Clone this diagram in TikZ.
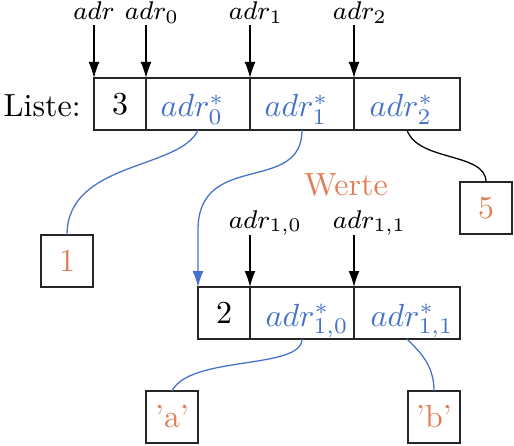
\documentclass[tikz,border=0pt]{standalone}
\usepackage{mathtools}
\usetikzlibrary{arrows.meta}
\definecolor{myblue}{RGB}{70,114,200}
\definecolor{myorange}{RGB}{224,128,88}
\tikzset{
  cell/.style={draw=black!85, minimum height=16.25pt, inner sep=0pt, outer sep=0pt, anchor=north west},
  w1/.style={minimum width=16.25pt},
  w2/.style={minimum width=32.5pt},
  w3/.style={minimum width=33.125pt},
  valbox/.style={cell, w1, text=myorange},
  ptr/.style={anchor=base west, inner sep=0pt, text=myblue},
  lab/.style={anchor=base, inner sep=0pt, font=\footnotesize},
  arr/.style={-{Latex[length=5pt,width=3.4pt]}},
  bluelink/.style={myblue},
}
\begin{document}
\begin{tikzpicture}[x=0.3125pt,y=-0.3125pt]
\useasboundingbox (0,0) rectangle (514,445);
% first list
\node[cell,w1] (c0) at (94,78) {3};
\node[cell,w2] (c1) at (146,78) {};
\node[cell,w2] (c2) at (250,78) {};
\node[cell,w3] (c3) at (354,78) {};
\node[ptr] (p0) at (160,117) {$adr^*_0$};
\node[ptr] (p1) at (264,117) {$adr^*_1$};
\node[ptr] (p2) at (369,117) {$adr^*_2$};
\node[anchor=base west, inner sep=0pt] (liste) at (3,117) {Liste:};
% labels and arrows
\node[lab] (l0) at (94,20) {$adr$};
\node[lab] (l1) at (146,20) {$adr_{\mathrlap{0}}$};
\node[lab] (l2) at (250,20) {$adr_{\mathrlap{1}}$};
\node[lab] (l3) at (354,20) {$adr_{\mathrlap{2}}$};
\coordinate (t0) at (94,25);
\coordinate (t1) at (146,25);
\coordinate (t2) at (250,25);
\coordinate (t3) at (354,25);
\draw[arr] (t0) -- (c0.north west);
\draw[arr] (t1) -- (c1.north west);
\draw[arr] (t2) -- (c2.north west);
\draw[arr] (t3) -- (c3.north west);
% second list
\node[cell,w1] (d0) at (198,287) {2};
\node[cell,w2] (d1) at (250,287) {};
\node[cell,w3] (d2) at (354,287) {};
\node[ptr] (q1) at (265,326) {$adr^*_{1,0}$};
\node[ptr] (q2) at (370,326) {$adr^*_{1,1}$};
\node[lab] (m1) at (250,228) {$adr_{\mathrlap{1,0}}$};
\node[lab] (m2) at (354,228) {$adr_{\mathrlap{1,1}}$};
\coordinate (s1) at (250,235);
\coordinate (s2) at (354,235);
\draw[arr] (s1) -- (d1.north west);
\draw[arr] (s2) -- (d2.north west);
% values
\node[valbox] (v1) at (41,235) {1};
\node[valbox] (v5) at (460,182) {5};
\node[valbox] (va) at (146,391) {'a'};
\node[valbox] (vb) at (408,391) {'b'};
\node[anchor=base, inner sep=0pt, text=myorange] (werte) at (346,196) {Werte};
% links
\coordinate (bend) at (198,230);
\draw[bluelink] (c1.south) .. controls +(-18,40) and +(0,-74) .. (v1.north);
\draw[bluelink,arr] (c2.south) .. controls +(0,65) and +(0,-80) .. (bend) -- (d0.north west);
\draw (c3.south) .. controls +(11,32) and +(0,-30) .. (v5.north);
\draw[bluelink] (d1.south) .. controls +(0,31) and +(18,-36) .. (va.north);
\draw[bluelink] (d2.south) .. controls +(13,13) and +(0,-26) .. (vb.north);
\end{tikzpicture}
\end{document}
